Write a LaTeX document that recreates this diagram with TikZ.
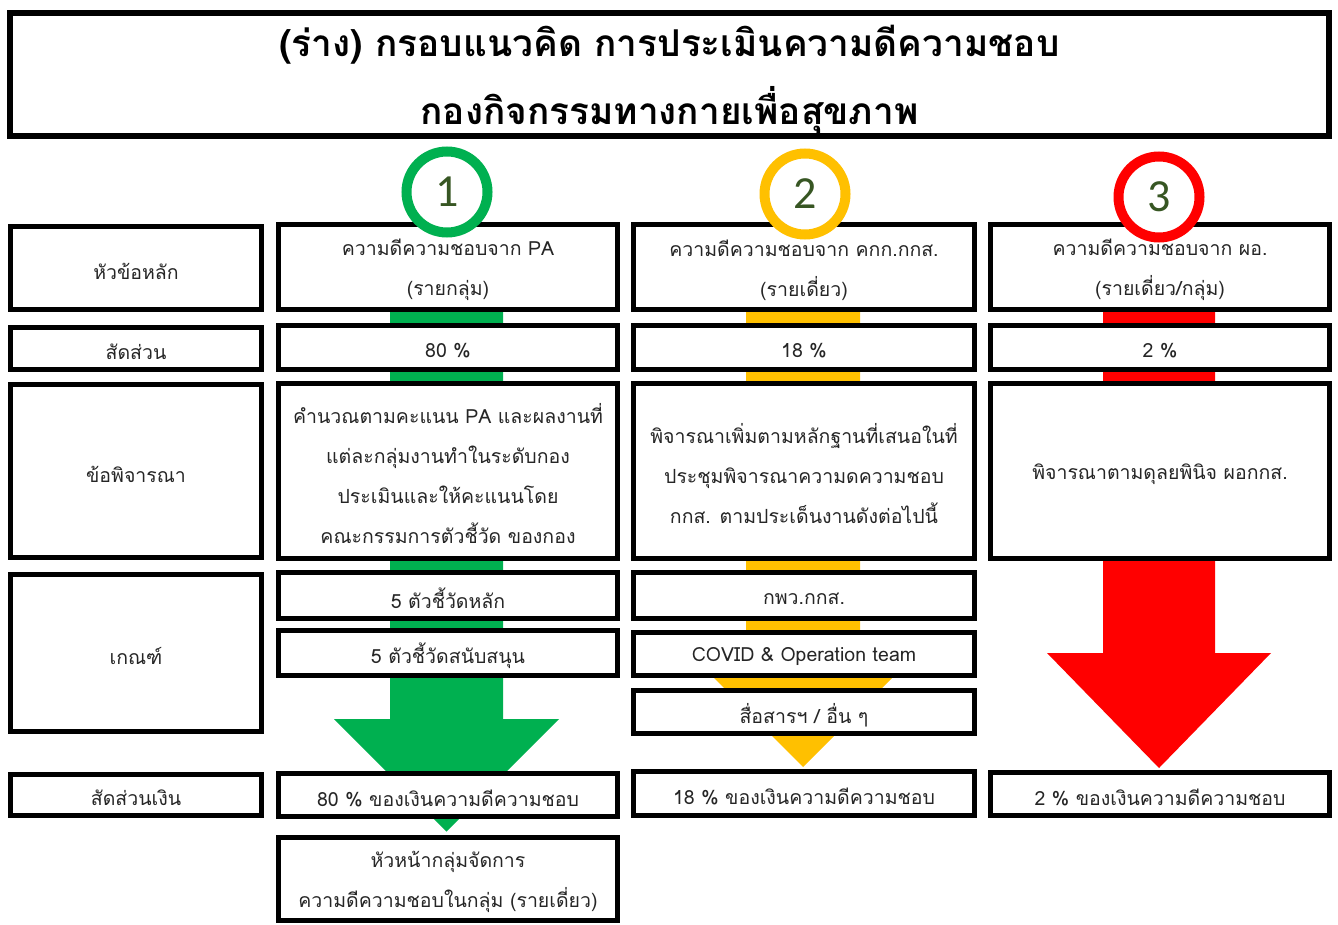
\documentclass[tikz,border=0pt]{standalone}
\usepackage{fontspec}
\setmainfont[Script=Thai]{Loma}
\newfontfamily\digitfont{Carlito}
\newcommand\bodyfont{\fontsize{19.5}{40}\selectfont}
\definecolor{pagreen}{HTML}{00B050}
\definecolor{payellow}{HTML}{FFC000}
\definecolor{pared}{HTML}{FF0000}
\definecolor{digitgreen}{HTML}{375623}
\tikzset{
  box/.style={draw=black, line width=5pt, fill=white, inner sep=0pt},
  boxtext/.style={inner sep=0pt, align=center, font=\bodyfont, text=black!85},
  ring/.style={circle, line width=10pt, fill=white, minimum size=81pt, inner sep=0pt, font=\digitfont\fontsize{46}{46}\selectfont, text=digitgreen},
  titlebox/.style={draw=black, line width=6pt, fill=white, inner sep=0pt},
  titletext/.style={inner sep=0pt, align=center, font=\bfseries\fontsize{37}{68}\selectfont}
}
\newcommand\mybox[6]{\node[box, minimum width={(#4)-(#2)-5}, minimum height={(#5)-(#3)-5}] (#1) at ({((#2)+(#4))/2},{((#3)+(#5))/2}) {};
\node[boxtext] (#1-t) at ([yshift=-3pt]#1.center) {#6};}
\begin{document}
\begin{tikzpicture}[x=1pt,y=-1pt]
\useasboundingbox[fill=white] (0,0) rectangle (1338,925);
% title
\node[titlebox, minimum width=1319, minimum height=123] (title) at (669.5,74.5) {};
\node[titletext] (title-t) at ([yshift=-5pt]title.center) {(ร่าง) กรอบแนวคิด การประเมินความดีความชอบ\\กองกิจกรรมทางกายเพื่อสุขภาพ};
% arrows (behind boxes)
\fill[pagreen] (390,312) -- (503,312) -- (503,719) -- (559,719) -- (446.5,831.5) -- (334,719) -- (390,719) -- cycle;
\fill[payellow] (746,312) -- (860,312) -- (860,655) -- (915,655) -- (803,767) -- (691,655) -- (746,655) -- cycle;
\fill[pared] (1103,312) -- (1215,312) -- (1215,653) -- (1271,653) -- (1159,768) -- (1047,653) -- (1103,653) -- cycle;
% left column
\mybox{l1}{8}{224}{264}{312}{หัวข้อหลัก}
\mybox{l2}{8}{325}{264}{372}{สัดส่วน}
\mybox{l3}{8}{382}{264}{560}{ข้อพิจารณา}
\mybox{l4}{8}{572}{264}{734}{เกณฑ์}
\mybox{l5}{8}{772}{264}{818}{สัดส่วนเงิน}
% column 1
\mybox{h1}{276}{222}{620}{312}{ความดีความชอบจาก PA\\(รายกลุ่ม)}
\mybox{p1}{276}{323}{620}{372}{80 \%}
\mybox{k1}{276}{381}{620}{561}{คำนวณตามคะแนน PA และผลงานที่\\แต่ละกลุ่มงานทำในระดับกอง\\ประเมินและให้คะแนนโดย\\คณะกรรมการตัวชี้วัด ของกอง}
\mybox{a1}{276}{570}{620}{621}{5 ตัวชี้วัดหลัก}
\mybox{b1}{276}{628}{620}{678}{5 ตัวชี้วัดสนับสนุน}
\mybox{m1}{276}{771}{620}{819}{80 \% ของเงินความดีความชอบ}
\mybox{d1}{276}{835}{620}{923}{หัวหน้ากลุ่มจัดการ\\ความดีความชอบในกลุ่ม (รายเดี่ยว)}
% column 2
\mybox{h2}{631}{222}{977}{312}{ความดีความชอบจาก คกก.กกส.\\(รายเดี่ยว)}
\mybox{p2}{631}{323}{977}{372}{18 \%}
\mybox{k2}{631}{381}{977}{561}{พิจารณาเพิ่มตามหลักฐานที่เสนอในที่\\ประชุมพิจารณาความดความชอบ\\กกส. ตามประเด็นงานดังต่อไปนี้}
\mybox{a2}{631}{570}{977}{621}{กพว.กกส.}
\mybox{b2}{631}{630}{977}{678}{COVID \& Operation team}
\mybox{c2}{631}{688}{977}{736}{สื่อสารฯ / อื่น ๆ}
\mybox{m2}{631}{769}{977}{818}{18 \% ของเงินความดีความชอบ}
% column 3
\mybox{h3}{988}{222}{1332}{312}{ความดีความชอบจาก ผอ.\\(รายเดี่ยว/กลุ่ม)}
\mybox{p3}{988}{323}{1332}{372}{2 \%}
\mybox{k3}{988}{381}{1332}{561}{พิจารณาตามดุลยพินิจ ผอกกส.}
\mybox{m3}{988}{770}{1332}{818}{2 \% ของเงินความดีความชอบ}
% number rings
\node[ring, draw=pagreen] (n1) at (447,192) {1};
\node[ring, draw=payellow] (n2) at (805,194) {2};
\node[ring, draw=pared] (n3) at (1159,197) {3};
\end{tikzpicture}
\end{document}
